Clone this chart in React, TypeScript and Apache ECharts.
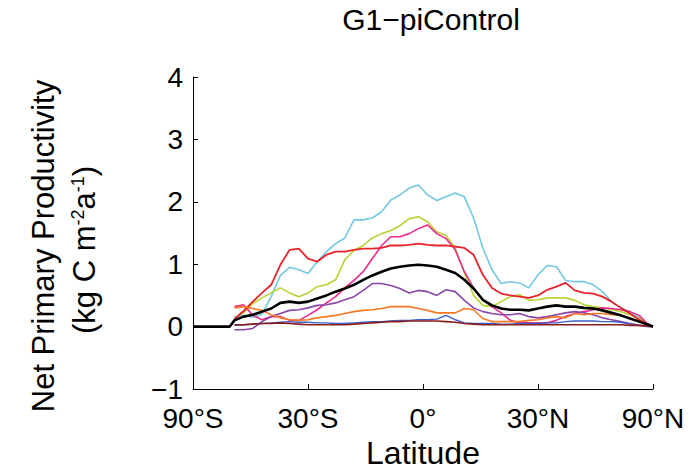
import React, { useEffect, useRef } from "react";
import * as echarts from "echarts";

// x positions on a sine-of-latitude axis (-1 = 90°S, 0 = 0°, 1 = 90°N)
const LAT_SIN = [-1, -0.84, -0.82, -0.78, -0.74, -0.70, -0.66, -0.62, -0.58, -0.54, -0.50, -0.46, -0.42, -0.38, -0.34, -0.30, -0.26, -0.22, -0.18, -0.14, -0.10, -0.06, -0.02, 0.02, 0.06, 0.10, 0.14, 0.18, 0.22, 0.26, 0.30, 0.34, 0.38, 0.42, 0.46, 0.50, 0.54, 0.58, 0.62, 0.66, 0.70, 0.74, 0.78, 0.82, 0.86, 0.90, 0.94, 0.98, 1.00];

const X_TICKS = [-1, -0.5, 0, 0.5, 1];
const X_TICK_LABELS = ["90°S", "30°S", "0°", "30°N", "90°N"];

const CYAN = [null, null, 0.15, 0.18, 0.15, 0.2, 0.48, 0.82, 0.95, 0.91, 0.85, 1.04, 1.2, 1.33, 1.42, 1.71, 1.71, 1.74, 1.84, 2.03, 2.11, 2.22, 2.27, 2.11, 2.02, 2.08, 2.14, 2.08, 1.74, 1.26, 0.91, 0.69, 0.72, 0.7, 0.62, 0.83, 0.98, 0.96, 0.74, 0.72, 0.72, 0.67, 0.56, 0.4, 0.3, 0.24, 0.14, 0.03, 0];
const GREEN = [null, null, 0.14, 0.22, 0.37, 0.46, 0.54, 0.62, 0.54, 0.48, 0.54, 0.64, 0.67, 0.75, 1.07, 1.22, 1.3, 1.42, 1.49, 1.54, 1.62, 1.73, 1.76, 1.68, 1.52, 1.46, 1.26, 0.86, 0.5, 0.34, 0.32, 0.4, 0.48, 0.51, 0.42, 0.43, 0.46, 0.46, 0.46, 0.42, 0.35, 0.32, 0.3, 0.27, 0.24, 0.19, 0.13, 0.02, 0];
const PINK = [null, null, 0.32, 0.35, 0.18, 0.11, 0.16, 0.16, 0.1, 0.1, 0.18, 0.27, 0.38, 0.48, 0.62, 0.74, 0.88, 1.09, 1.3, 1.44, 1.44, 1.49, 1.57, 1.63, 1.49, 1.41, 1.23, 0.88, 0.62, 0.43, 0.32, 0.22, 0.1, 0.06, 0.06, 0.06, 0.06, 0.1, 0.16, 0.21, 0.24, 0.27, 0.3, 0.29, 0.27, 0.24, 0.18, 0.03, 0];
const RED = [null, null, 0.12, 0.25, 0.4, 0.54, 0.67, 0.99, 1.23, 1.25, 1.09, 1.04, 1.15, 1.2, 1.2, 1.23, 1.25, 1.25, 1.26, 1.3, 1.3, 1.31, 1.33, 1.31, 1.3, 1.3, 1.28, 1.26, 1.15, 0.83, 0.62, 0.53, 0.5, 0.48, 0.46, 0.5, 0.59, 0.64, 0.7, 0.58, 0.54, 0.53, 0.48, 0.4, 0.3, 0.21, 0.11, 0.03, 0];
const PURPLE = [null, null, -0.05, -0.05, -0.03, 0.08, 0.16, 0.21, 0.26, 0.27, 0.3, 0.34, 0.35, 0.38, 0.43, 0.48, 0.58, 0.69, 0.69, 0.66, 0.61, 0.54, 0.58, 0.56, 0.5, 0.59, 0.56, 0.42, 0.3, 0.24, 0.21, 0.19, 0.19, 0.21, 0.16, 0.14, 0.16, 0.19, 0.22, 0.24, 0.22, 0.19, 0.14, 0.11, 0.08, 0.05, 0.02, 0, 0];
const ORANGE = [null, null, 0.3, 0.32, 0.29, 0.26, 0.19, 0.14, 0.11, 0.1, 0.11, 0.14, 0.16, 0.18, 0.21, 0.24, 0.26, 0.27, 0.29, 0.32, 0.32, 0.32, 0.29, 0.26, 0.22, 0.22, 0.22, 0.29, 0.27, 0.13, 0.08, 0.08, 0.08, 0.08, 0.1, 0.11, 0.14, 0.16, 0.14, 0.21, 0.19, 0.21, 0.21, 0.19, 0.18, 0.13, 0.08, 0.02, 0];
const BLUE = [null, null, 0.02, 0.03, 0.04, 0.05, 0.06, 0.07, 0.08, 0.07, 0.07, 0.06, 0.06, 0.05, 0.05, 0.06, 0.07, 0.08, 0.08, 0.09, 0.1, 0.1, 0.11, 0.11, 0.12, 0.18, 0.11, 0.06, 0.05, 0.05, 0.05, 0.04, 0.04, 0.05, 0.05, 0.05, 0.06, 0.06, 0.08, 0.09, 0.09, 0.09, 0.08, 0.08, 0.07, 0.04, 0.02, 0.01, 0];
const DARKRED = [null, null, 0.03, 0.03, 0.04, 0.05, 0.05, 0.06, 0.05, 0.04, 0.03, 0.03, 0.03, 0.03, 0.03, 0.04, 0.05, 0.06, 0.07, 0.08, 0.08, 0.09, 0.09, 0.09, 0.09, 0.08, 0.07, 0.05, 0.04, 0.03, 0.03, 0.03, 0.03, 0.03, 0.03, 0.03, 0.03, 0.03, 0.03, 0.03, 0.03, 0.03, 0.03, 0.03, 0.03, 0.02, 0.02, 0.01, 0];
const MEAN = [0, 0, 0.1, 0.16, 0.19, 0.24, 0.29, 0.38, 0.4, 0.38, 0.4, 0.45, 0.5, 0.56, 0.61, 0.67, 0.75, 0.82, 0.88, 0.93, 0.96, 0.98, 0.99, 0.98, 0.96, 0.91, 0.86, 0.75, 0.61, 0.43, 0.34, 0.29, 0.27, 0.27, 0.26, 0.29, 0.32, 0.34, 0.32, 0.32, 0.3, 0.29, 0.26, 0.22, 0.18, 0.13, 0.08, 0.03, 0];

const SERIES = [
  { name: "model A", values: CYAN, color: "#72c8e2", width: 1.6 },
  { name: "model B", values: GREEN, color: "#b7d434", width: 1.6 },
  { name: "model C", values: PINK, color: "#ec2a8e", width: 1.6 },
  { name: "model D", values: RED, color: "#e8232a", width: 1.8 },
  { name: "model E", values: PURPLE, color: "#8b44a8", width: 1.6 },
  { name: "model F", values: ORANGE, color: "#f57a22", width: 1.6 },
  { name: "model G", values: BLUE, color: "#3a5fc8", width: 1.4 },
  { name: "model H", values: DARKRED, color: "#8b1c1c", width: 1.6 },
  { name: "Mean", values: MEAN, color: "#000000", width: 2.6 },
];

const FONT = '"Liberation Sans", Arial, Helvetica, sans-serif';

export default function App() {
  const ref = useRef<HTMLDivElement>(null);
  useEffect(() => {
    if (!ref.current) return;
    const chart = echarts.init(ref.current, undefined, { renderer: "svg" });
    chart.setOption({
      animation: false,
      backgroundColor: "#ffffff",
      title: {
        text: "G1−piControl",
        left: 431,
        top: 4,
        textAlign: "center",
        padding: 0,
        textStyle: { fontFamily: FONT, fontSize: 30, fontWeight: "normal", color: "#000" },
      },
      grid: { left: 193, right: 46, top: 77, bottom: 83, containLabel: false, outerBoundsMode: "none" },
      xAxis: {
        type: "value",
        min: -1,
        max: 1,
        interval: 0.5,
        name: "Latitude",
        nameLocation: "middle",
        nameGap: 44,
        nameTextStyle: { fontFamily: FONT, fontSize: 32, color: "#000" },
        axisLine: { onZero: false, lineStyle: { color: "#000", width: 1 } },
        axisTick: { inside: true, length: 5, lineStyle: { color: "#000" } },
        splitLine: { show: false },
        axisLabel: {
          margin: 15,
          fontFamily: FONT,
          fontSize: 28,
          color: "#000",
          formatter: (v: number) => {
            const i = X_TICKS.findIndex((t) => Math.abs(t - v) < 1e-6);
            return i >= 0 ? X_TICK_LABELS[i] : "";
          },
        },
      },
      yAxis: {
        type: "value",
        min: -1,
        max: 4,
        interval: 1,
        axisLine: { show: true, onZero: false, lineStyle: { color: "#000", width: 1 } },
        axisTick: { show: true, inside: true, length: 5, lineStyle: { color: "#000" } },
        splitLine: { show: false },
        axisLabel: {
          margin: 10,
          fontFamily: FONT,
          fontSize: 28,
          color: "#000",
          formatter: (v: number) => (v < 0 ? "−" + Math.abs(v) : String(v)),
        },
      },
      graphic: [
        {
          type: "text",
          x: 43,
          y: 246,
          rotation: Math.PI / 2,
          style: {
            text: "Net Primary Productivity",
            fontFamily: FONT,
            fontSize: 31,
            fill: "#000",
            align: "center",
            verticalAlign: "middle",
          },
        },
        {
          type: "text",
          x: 84,
          y: 250,
          rotation: Math.PI / 2,
          style: {
            text: "{n|(kg C m}{s|-2}{n|a}{s|-1}{n|)}",
            fontFamily: FONT,
            fontSize: 31,
            fill: "#000",
            align: "center",
            verticalAlign: "middle",
            rich: {
              n: { fontFamily: FONT, fontSize: 31, lineHeight: 31, verticalAlign: "bottom", fill: "#000" },
              s: { fontFamily: FONT, fontSize: 18, lineHeight: 18, padding: [0, 0, 22, 0], verticalAlign: "top", fill: "#000" },
            },
          },
        },
      ],
      series: SERIES.map((s) => ({
        type: "line",
        name: s.name,
        data: LAT_SIN.map((x, i) => [x, s.values[i]]),
        showSymbol: false,
        symbol: "none",
        connectNulls: false,
        lineStyle: { color: s.color, width: s.width },
        itemStyle: { color: s.color },
        z: s.name === "Mean" ? 5 : 2,
      })),
    });
    return () => chart.dispose();
  }, []);
  return <div ref={ref} style={{ width: 699, height: 472, margin: -8 }} />;
}
